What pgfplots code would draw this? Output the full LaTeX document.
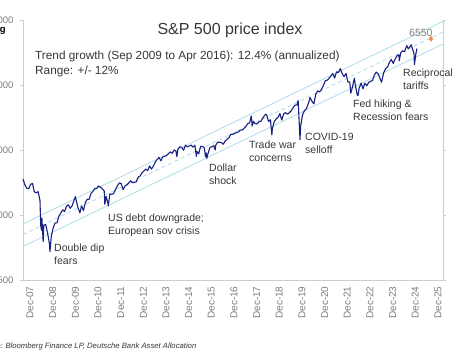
\documentclass[border=0pt]{standalone}
\usepackage{fontspec}
\setmainfont{Liberation Sans}
\usepackage{pgfplots}
\pgfplotsset{compat=1.18}
\definecolor{spx}{RGB}{24,32,130}
\definecolor{trend}{RGB}{165,215,230}
\definecolor{axgray}{RGB}{205,205,205}
\definecolor{txt}{RGB}{55,55,55}
\definecolor{ticktxt}{RGB}{125,125,125}
\definecolor{orng}{RGB}{240,140,60}

\begin{document}
\begin{tikzpicture}[x=1pt,y=1pt]
\useasboundingbox (-23,-77) rectangle (429,280);
\begin{axis}[
  at={(0,0)}, anchor=south west,
  scale only axis, width=420pt, height=260pt,
  xmin=2008, xmax=2026.53,
  ymode=log, ymin=500, ymax=8000,
  axis x line*=bottom,
  every outer x axis line/.append style={-},
  every inner x axis line/.append style={-},
  axis line style={draw=axgray, line width=0.8pt},
  tick align=outside,
  ytick pos=both,
  ytick={500,1000,2000,4000,8000},
  yticklabels={500,1000,2000,4000,8000},
  yticklabel style={font=\fontsize{9.5}{10}\selectfont, text=ticktxt, xshift=-3pt},
  ytick style={draw=axgray, line width=0.8pt},
  major tick length=3pt,
  minor ytick={},
  xtick={2008,2009,...,2026},
  xticklabels={Dec-07,Dec-08,Dec-09,Dec-10,Dec-11,Dec-12,Dec-13,Dec-14,Dec-15,Dec-16,Dec-17,Dec-18,Dec-19,Dec-20,Dec-21,Dec-22,Dec-23,Dec-24,Dec-25},
  xtick style={draw=none},
  xticklabel style={rotate=90, anchor=east, font=\fontsize{10}{12}\selectfont, text=ticktxt, yshift=-7pt},
  clip=false,
]
% trend channel (12.4% annualized, +/- 12%)
\addplot[trend, line width=0.7pt] coordinates {(2008,909) (2026.53,7885)};
\addplot[trend, line width=0.7pt] coordinates {(2008,715) (2026.53,6195)};
\addplot[trend, line width=0.7pt, dash pattern=on 4pt off 3pt] coordinates {(2008,812) (2026.53,7040)};
% S&P 500
\addplot[spx, line width=1.1pt, line join=round] table {
x y
2008.000 1468
2008.083 1378
2008.167 1331
2008.250 1323
2008.333 1386
2008.417 1400
2008.500 1280
2008.583 1267
2008.667 1283
2008.750 1166
2008.780 899
2008.820 848
2008.833 969
2008.890 752
2008.917 896
2009.000 903
2009.083 826
2009.167 735
2009.190 677
2009.250 798
2009.333 873
2009.417 919
2009.500 919
2009.583 987
2009.667 1021
2009.750 1057
2009.833 1036
2009.917 1096
2010.000 1115
2010.083 1074
2010.167 1104
2010.250 1169
2010.310 1217
2010.333 1187
2010.417 1089
2010.500 1031
2010.510 1022
2010.583 1102
2010.667 1049
2010.750 1141
2010.833 1183
2010.917 1181
2011.000 1258
2011.083 1286
2011.167 1327
2011.250 1326
2011.333 1364
2011.417 1345
2011.500 1321
2011.583 1292
2011.610 1119
2011.667 1219
2011.750 1131
2011.760 1099
2011.833 1253
2011.917 1247
2012.000 1258
2012.083 1312
2012.167 1366
2012.250 1408
2012.333 1398
2012.417 1310
2012.500 1362
2012.583 1379
2012.667 1407
2012.750 1441
2012.833 1412
2012.917 1416
2013.000 1426
2013.083 1498
2013.167 1515
2013.250 1569
2013.333 1598
2013.417 1631
2013.500 1606
2013.583 1686
2013.667 1633
2013.750 1682
2013.833 1757
2013.917 1806
2014.000 1848
2014.083 1783
2014.167 1859
2014.250 1872
2014.333 1884
2014.417 1924
2014.500 1960
2014.583 1931
2014.667 2003
2014.750 1972
2014.790 1862
2014.833 2018
2014.917 2068
2015.000 2059
2015.083 1995
2015.167 2105
2015.250 2068
2015.333 2086
2015.417 2107
2015.500 2063
2015.583 2104
2015.650 1868
2015.667 1972
2015.750 1920
2015.833 2079
2015.917 2080
2016.000 2044
2016.050 1859
2016.083 1940
2016.110 1829
2016.167 1932
2016.250 2060
2016.333 2065
2016.417 2097
2016.480 2001
2016.500 2099
2016.583 2174
2016.667 2171
2016.750 2168
2016.833 2126
2016.917 2199
2017.000 2239
2017.083 2279
2017.167 2364
2017.250 2363
2017.333 2384
2017.417 2412
2017.500 2423
2017.583 2470
2017.667 2472
2017.750 2519
2017.833 2575
2017.917 2648
2018.000 2674
2018.070 2873
2018.083 2824
2018.110 2581
2018.167 2714
2018.250 2641
2018.333 2648
2018.417 2705
2018.500 2718
2018.583 2816
2018.667 2902
2018.720 2931
2018.750 2914
2018.833 2712
2018.917 2760
2018.980 2351
2019.000 2507
2019.083 2704
2019.167 2784
2019.250 2834
2019.333 2946
2019.417 2752
2019.500 2942
2019.583 2980
2019.667 2926
2019.750 2977
2019.833 3038
2019.917 3141
2020.000 3231
2020.083 3226
2020.140 3386
2020.167 2954
2020.220 2237
2020.250 2585
2020.333 2912
2020.417 3044
2020.500 3100
2020.583 3271
2020.667 3500
2020.750 3363
2020.833 3270
2020.917 3622
2021.000 3756
2021.083 3714
2021.167 3811
2021.250 3973
2021.333 4181
2021.417 4204
2021.500 4298
2021.583 4395
2021.667 4523
2021.750 4308
2021.833 4605
2021.917 4567
2022.000 4766
2022.083 4516
2022.167 4374
2022.250 4530
2022.333 4132
2022.417 4132
2022.460 3667
2022.500 3785
2022.583 4130
2022.620 4305
2022.667 3955
2022.750 3586
2022.780 3577
2022.833 3872
2022.917 4080
2023.000 3840
2023.083 4077
2023.167 3970
2023.250 4109
2023.333 4169
2023.417 4180
2023.500 4450
2023.583 4589
2023.667 4508
2023.750 4288
2023.820 4117
2023.833 4194
2023.917 4568
2024.000 4770
2024.083 4846
2024.167 5096
2024.250 5254
2024.333 5036
2024.417 5278
2024.500 5460
2024.583 5522
2024.600 5186
2024.667 5648
2024.750 5762
2024.833 5705
2024.917 6032
2024.930 6090
2025.000 5882
2025.083 6041
2025.130 6144
2025.167 5955
2025.250 5612
2025.270 4982
2025.333 5569
2025.380 5900
};
% target
\addplot[only marks, mark=diamond*, mark size=2.6pt, orng] coordinates {(2026.0,6550)};
\end{axis}
% text (positions in px relative to axis origin)
\node[text=txt, font=\fontsize{16}{18}\selectfont] at (207,250) {S\&P 500 price index};
\node[text=txt, font=\fontsize{11.8}{14}\selectfont, anchor=west, inner sep=0] at (12,224) {Trend growth (Sep 2009 to Apr 2016): 12.4\% (annualized)};
\node[text=txt, font=\fontsize{11.8}{14}\selectfont, anchor=west, inner sep=0] at (12,209) {Range: +/- 12\%};
\node[font=\bfseries\fontsize{9.5}{11}\selectfont, anchor=east, inner sep=0] at (-17,249.5) {Log};
\tikzset{ann/.style={text=txt, font=\fontsize{10.5}{12.5}\selectfont, anchor=north west, inner sep=0, align=left}}
\node[ann] at (31,36) {Double dip\\fears};
\node[ann] at (85,66) {US debt downgrade;\\European sov crisis};
\node[ann] at (186,116) {Dollar\\shock};
\node[ann] at (226,139) {Trade war\\concerns};
\node[ann] at (282,147) {COVID-19\\selloff};
\node[ann] at (330,180) {Fed hiking \&\\Recession fears};
\node[ann] at (380,211) {Reciprocal\\tariffs};
\node[ann, text=ticktxt] at (386,251) {6550};
\node[text=txt, font=\itshape\fontsize{7.7}{9}\selectfont, anchor=west, inner sep=0] at (-47,-67) {Source: Bloomberg Finance LP, Deutsche Bank Asset Allocation};
\end{tikzpicture}
\end{document}
